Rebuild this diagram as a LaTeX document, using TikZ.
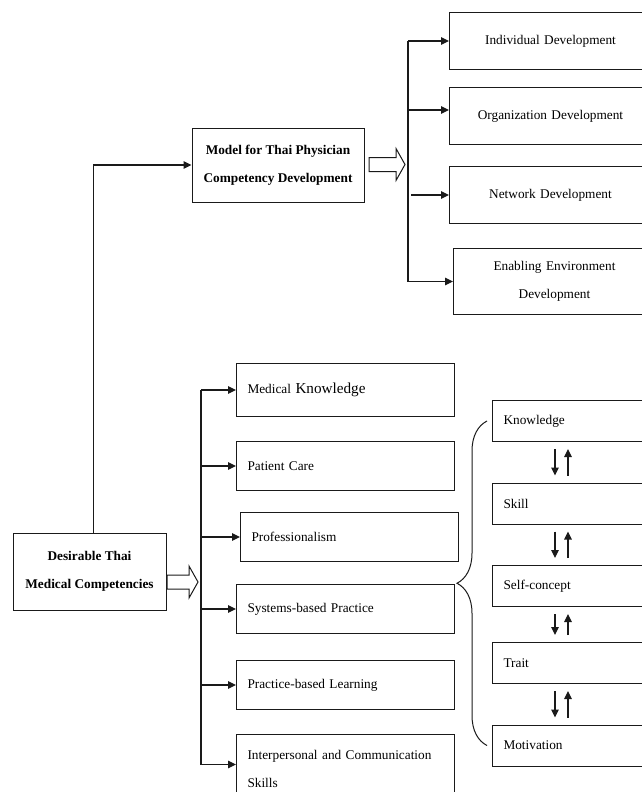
\documentclass[tikz,border=0pt]{standalone}
\usepackage{fontspec}
\setmainfont{Liberation Serif}
\usetikzlibrary{arrows.meta,positioning,decorations.pathreplacing}
\definecolor{ink}{HTML}{1A1A1A}
\newcommand{\textsz}{\fontsize{13.3pt}{28pt}\selectfont}
% hollow block arrow: start x, centre y, length
\newcommand{\blockarrow}[3]{%
  \draw[ink, line width=1pt]
    (#1,#2-7) -- (#1+#3-9,#2-7) -- (#1+#3-9,#2-16) -- (#1+#3,#2)
    -- (#1+#3-9,#2+16) -- (#1+#3-9,#2+7) -- (#1,#2+7) -- cycle;}

\begin{document}
\begin{tikzpicture}[
  x=1pt, y=-1pt,
  box/.style={
    draw=ink,
    fill=white,
    line width=1pt,
    font=\textsz,
    inner ysep=0pt
  },
  titlebox/.style={
    box,
    font=\textsz\bfseries,
    align=center
  },
  outcome/.style={
    box,
    text width=180pt,
    inner xsep=11pt,
    align=center,
    minimum height=57pt
  },
  competency/.style={
    box,
    text width=196pt,
    inner xsep=11pt,
    align=left,
    minimum height=49pt
  },
  attribute/.style={
    box,
    text width=138pt,
    inner xsep=11pt,
    align=left,
    minimum height=41pt
  },
  link/.style={
    -{Triangle[length=8pt,width=7.5pt]},
    draw=ink,
    line width=1.1pt
  },
  bus/.style={
    draw=ink,
    line width=1.1pt
  }
]
\useasboundingbox (0,0) rectangle (642,792);

% main boxes
\node[titlebox, minimum width=172pt, minimum height=74pt] (model) at (278,165)
  {Model for Thai Physician\\Competency Development};
\node[titlebox, minimum width=153pt, minimum height=77pt] (desire) at (89.5,571.5)
  {Desirable Thai\\Medical Competencies};

% development outcomes
\node[outcome, anchor=north west] (indiv) at (449,12) {Individual Development};
\node[outcome, below=17pt of indiv] (organ) {Organization Development};
\node[outcome, below=21pt of organ] (network) {Network Development};
\node[outcome, minimum height=66pt, below=24pt of network, xshift=4pt] (enable)
  {Enabling Environment\\Development};

% competencies
\node[competency, minimum height=53pt, anchor=north west] (medical) at (236,363)
  {Medical {\fontsize{15.2pt}{28pt}\selectfont Knowledge}};
\node[competency, below=24pt of medical] (patient) {Patient Care};
\node[competency, below=21pt of patient, xshift=4pt] (profess) {Professionalism};
\node[competency, below=22pt of profess, xshift=-4pt] (systems) {Systems-based Practice};
\node[competency, below=26pt of systems] (practice) {Practice-based Learning};
\node[competency, minimum height=68pt, below=24pt of practice] (interp)
  {Interpersonal and Communication\\Skills};

% competency attributes
\node[attribute, anchor=north west] (know) at (492,400) {Knowledge};
\node[attribute, below=40.5pt of know] (skill) {Skill};
\node[attribute, below=40.5pt of skill] (selfc) {Self-concept};
\node[attribute, below=35pt of selfc] (trait) {Trait};
\node[attribute, below=40.5pt of trait] (motiv) {Motivation};

% connectors
\draw[link] ([xshift=4pt]desire.north) |- (model.west);

\blockarrow{369}{164.5}{36}
\blockarrow{167}{582}{31}

\coordinate (topbus) at (408,42);
\draw[bus] (topbus |- indiv.west) -- (topbus |- enable.west);
\draw[link] (topbus |- indiv.west) -- (indiv.west);
\draw[link] ([yshift=6pt]topbus |- organ.west) -- ([yshift=6pt]organ.west);
\draw[link] ([xshift=3pt]topbus |- network.west) -- (network.west);
\draw[link] (topbus |- enable.west) -- (enable.west);

\coordinate (lowbus) at (201,391);
\draw[bus] (lowbus |- medical.west) -- ([yshift=4pt]lowbus |- interp.west);
\foreach \comp in {medical, patient, profess, systems, practice}
  \draw[link] (lowbus |- \comp.west) -- (\comp.west);
\draw[link] ([yshift=4pt]lowbus |- interp.west) -- ([yshift=4pt]interp.west);

\foreach \upper/\lower in {know/skill, skill/selfc, selfc/trait, trait/motiv} {
  \draw[link] ([xshift=63pt,yshift=-7pt]\upper.south west)
    -- ([xshift=63pt,yshift=7pt]\lower.north west);
  \draw[link] ([xshift=76pt,yshift=7pt]\lower.north west)
    -- ([xshift=76pt,yshift=-7pt]\upper.south west);
}

\draw[ink, line width=1pt, decorate, decoration={brace, amplitude=30pt}]
  ([xshift=-5pt]motiv.west) -- ([xshift=-5pt]know.west);
\end{tikzpicture}
\end{document}
